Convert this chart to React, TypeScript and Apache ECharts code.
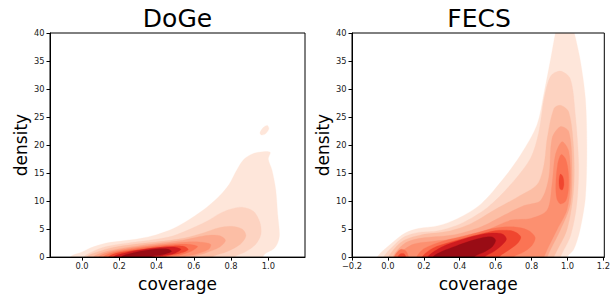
import React, { useEffect, useRef } from "react";
import * as echarts from "echarts";

// ---- data: contour outlines, [coverage, density] ----
const X_TICKS_DOGE = [0, 0.2, 0.4, 0.6, 0.8, 1.0];
const X_TICKS_FECS = [-0.2, 0, 0.2, 0.4, 0.6, 0.8, 1.0, 1.2];
const Y_TICKS = [0, 5, 10, 15, 20, 25, 30, 35, 40];

const dogeL1 = [[-0.07, -2], [-0.064, 0], [0.0, 0.9], [0.05, 1.7], [0.13, 2.5], [0.22, 2.9], [0.31, 3.3], [0.4, 4.0], [0.49, 5.1], [0.58, 6.8], [0.67, 8.9], [0.74, 11.0], [0.79, 13], [0.83, 15.5], [0.87, 17.5], [0.92, 18.5], [0.97, 18.8], [1.01, 18.7], [1.0, 17.5], [1.02, 15.5], [1.04, 12], [1.05, 7.8], [1.06, 4], [1.05, 2.5], [1.03, 1.5], [0.98, 0.5], [0.93, -2]];
const dogeL1b = [[0.955, 22.2], [0.975, 23.2], [0.995, 23.5], [1.003, 22.9], [0.985, 22.0], [0.963, 21.8]];
const dogeL2 = [[-0.02, -2], [0.007, 0], [0.07, 1.2], [0.13, 1.9], [0.22, 2.4], [0.31, 2.8], [0.4, 3.2], [0.49, 3.8], [0.58, 5.0], [0.67, 6.4], [0.74, 7.8], [0.8, 8.6], [0.86, 8.9], [0.92, 8.2], [0.955, 6.2], [0.96, 4], [0.93, 2.2], [0.88, 1], [0.82, 0], [0.8, -2]];
const dogeL3 = [[0.02, -2], [0.025, 0], [0.09, 1.0], [0.15, 1.6], [0.24, 2.1], [0.34, 2.5], [0.45, 2.9], [0.55, 3.4], [0.65, 4.3], [0.73, 5.2], [0.8, 5.5], [0.86, 5.0], [0.88, 3.8], [0.85, 2.3], [0.78, 1.0], [0.7, 0], [0.68, -2]];
const dogeL4 = [[0.055, -2], [0.061, 0], [0.12, 0.9], [0.2, 1.5], [0.3, 2.0], [0.42, 2.5], [0.52, 2.9], [0.61, 3.5], [0.68, 3.9], [0.74, 3.8], [0.77, 3.0], [0.74, 1.8], [0.66, 0.7], [0.6, 0], [0.58, -2]];
const dogeL5 = [[0.085, -2], [0.088, 0], [0.15, 0.9], [0.24, 1.5], [0.35, 2.0], [0.46, 2.4], [0.56, 2.7], [0.63, 2.7], [0.69, 2.3], [0.68, 1.4], [0.61, 0.5], [0.55, 0], [0.53, -2]];
const dogeL6 = [[0.11, -2], [0.114, 0], [0.18, 0.9], [0.27, 1.4], [0.38, 1.9], [0.48, 2.2], [0.57, 2.3], [0.62, 1.9], [0.59, 1.1], [0.52, 0.3], [0.48, 0], [0.47, -2]];
const dogeL7 = [[0.138, -2], [0.141, 0], [0.2, 0.8], [0.3, 1.3], [0.4, 1.75], [0.49, 2.0], [0.55, 1.9], [0.57, 1.3], [0.52, 0.6], [0.45, 0], [0.44, -2]];
const dogeL8 = [[0.165, -2], [0.168, 0], [0.23, 0.75], [0.32, 1.3], [0.42, 1.7], [0.49, 1.8], [0.53, 1.4], [0.5, 0.7], [0.43, 0.2], [0.39, 0], [0.38, -2]];
const dogeL9 = [[0.2, -2], [0.21, 0], [0.26, 0.65], [0.33, 1.15], [0.4, 1.45], [0.46, 1.45], [0.48, 1.0], [0.43, 0.4], [0.37, 0], [0.36, -2]];

const fecsL1 = [[-0.07, -2], [-0.06, 0], [0.022, 2.5], [0.096, 4.3], [0.169, 5.1], [0.28, 5.6], [0.39, 6.9], [0.519, 9.5], [0.648, 14.2], [0.74, 18.3], [0.83, 23.6], [0.87, 29.4], [0.906, 35.3], [0.933, 40], [0.96, 43.5], [1.0, 44], [1.03, 41], [1.07, 35.3], [1.1, 28.2], [1.108, 19.5], [1.1, 10.7], [1.07, 4.9], [1.034, 1.3], [0.997, 0], [0.99, -2]];
const fecsL2 = [[-0.03, -2], [-0.024, 0], [0.04, 2.3], [0.096, 3.7], [0.169, 4.4], [0.28, 4.7], [0.408, 6.0], [0.556, 8.9], [0.685, 13], [0.795, 17.7], [0.841, 22.4], [0.869, 28.2], [0.906, 32.3], [0.961, 33.2], [1.016, 31.8], [1.044, 25.3], [1.062, 16.5], [1.052, 9.5], [1.016, 3.7], [0.961, 0], [0.95, -2]];
const fecsL3 = [[-0.005, -2], [0.003, 0], [0.05, 2.0], [0.096, 3.1], [0.188, 4.0], [0.335, 4.6], [0.464, 6.0], [0.592, 8.4], [0.721, 10.7], [0.832, 13], [0.869, 16.5], [0.887, 21.2], [0.924, 26.5], [0.961, 27.1], [1.007, 25.9], [1.034, 19.5], [1.034, 11.9], [0.997, 4.9], [0.924, 0], [0.91, -2]];
const fecsL4 = [[0.02, -2], [0.026, 0], [0.096, 2.5], [0.188, 3.4], [0.372, 4.0], [0.519, 5.4], [0.648, 7.5], [0.758, 9.2], [0.85, 10.1], [0.896, 14.2], [0.914, 21.2], [0.961, 23.3], [1.007, 22.4], [1.025, 16.5], [1.016, 9.5], [0.961, 4.9], [0.887, 0], [0.88, -2]];
const fecsL5 = [[0.045, -2], [0.05, 0], [0.133, 2.2], [0.243, 2.8], [0.408, 3.4], [0.556, 4.9], [0.685, 6.6], [0.795, 6.9], [0.887, 8.4], [0.914, 13], [0.933, 18.3], [0.97, 20.6], [1.007, 18.9], [1.016, 13], [0.997, 8.4], [0.942, 4.9], [0.869, 0], [0.86, -2]];
const fecsL6a = [[0.03, -2], [0.035, 0], [0.055, 1.0], [0.075, 1.4], [0.1, 1.1], [0.115, 0], [0.12, -2]];
const fecsL6b = [[0.155, -2], [0.16, 0], [0.2, 1.5], [0.3, 2.8], [0.4, 3.6], [0.5, 4.4], [0.6, 5.2], [0.7, 5.4], [0.78, 4.8], [0.82, 3.5], [0.8, 2], [0.75, 0.8], [0.7, 0], [0.69, -2]];
const fecsL6c = [[0.965, 18.3], [0.99, 17.5], [1.005, 15], [1.005, 12], [0.99, 10], [0.96, 9.5], [0.94, 10.5], [0.935, 13], [0.945, 16.5]];
const fecsL7a = [[0.05, -2], [0.055, 0], [0.07, 0.6], [0.09, 0.6], [0.1, 0], [0.1, -2]];
const fecsL7b = [[0.185, -2], [0.19, 0], [0.25, 1.6], [0.35, 2.7], [0.45, 3.6], [0.55, 4.4], [0.62, 4.8], [0.7, 4.6], [0.74, 3.6], [0.72, 2.4], [0.67, 1.2], [0.62, 0], [0.61, -2]];
const fecsL7c = [[0.96, 14.8], [0.975, 14.3], [0.98, 13], [0.972, 12], [0.958, 12.2], [0.953, 13.5]];
const fecsL8 = [[0.215, -2], [0.22, 0], [0.3, 1.8], [0.4, 3.0], [0.5, 3.9], [0.58, 4.3], [0.64, 4.1], [0.66, 3.2], [0.63, 2.0], [0.58, 0.8], [0.54, 0], [0.53, -2]];
const fecsL9 = [[0.245, -2], [0.25, 0], [0.3, 1.0], [0.38, 2.0], [0.46, 2.9], [0.53, 3.5], [0.58, 3.6], [0.6, 3.0], [0.58, 1.8], [0.53, 0.8], [0.48, 0], [0.47, -2]];

// level index (0 = lightest) for each outline, in drawing order
const DOGE_SHAPES = [
  { lvl: 0, pts: dogeL1 }, { lvl: 0, pts: dogeL1b }, { lvl: 1, pts: dogeL2 }, { lvl: 2, pts: dogeL3 },
  { lvl: 3, pts: dogeL4 }, { lvl: 4, pts: dogeL5 }, { lvl: 5, pts: dogeL6 }, { lvl: 6, pts: dogeL7 },
  { lvl: 7, pts: dogeL8 }, { lvl: 8, pts: dogeL9 },
];
const FECS_SHAPES = [
  { lvl: 0, pts: fecsL1 }, { lvl: 1, pts: fecsL2 }, { lvl: 2, pts: fecsL3 }, { lvl: 3, pts: fecsL4 },
  { lvl: 4, pts: fecsL5 }, { lvl: 5, pts: fecsL6a }, { lvl: 5, pts: fecsL6b }, { lvl: 5, pts: fecsL6c },
  { lvl: 6, pts: fecsL7a }, { lvl: 6, pts: fecsL7b }, { lvl: 6, pts: fecsL7c }, { lvl: 7, pts: fecsL8 },
  { lvl: 8, pts: fecsL9 },
];

const COLORS = ["#fee6da", "#fdd3c1", "#fcbea5", "#fca78b", "#fc9070", "#fb7454", "#f0462f", "#cf1c1f", "#990c15"];

const FONT = "DejaVu Sans";

function fmtTick(v: number) {
  const s = Math.abs(v).toFixed(1);
  return v < 0 ? "\u2212" + s : s;
}

function contourSeries(shapes: { lvl: number; pts: number[][] }[], gi: number) {
  return {
    type: "custom",
    xAxisIndex: gi,
    yAxisIndex: gi,
    clip: true,
    silent: true,
    data: shapes.map(() => [0.5, 10]),
    renderItem: (params: any, api: any) => {
      const sh = shapes[params.dataIndex];
      const points = sh.pts.map((p) => api.coord(p));
      return {
        type: "polygon",
        shape: { points, smooth: 0.3 },
        style: { fill: COLORS[sh.lvl], stroke: COLORS[sh.lvl], lineWidth: 0.3 },
      };
    },
  };
}

function xAxisCfg(gi: number, min: number, max: number, ticks: number[]) {
  return {
    type: "value",
    gridIndex: gi,
    min,
    max,
    name: "coverage",
    nameLocation: "middle",
    nameGap: 16,
    nameTextStyle: { fontSize: 17, color: "#000", fontFamily: FONT },
    axisLine: { show: true, onZero: false, lineStyle: { color: "#000", width: 1 } },
    axisTick: { show: true, inside: false, length: 3.5, customValues: ticks, lineStyle: { color: "#000", width: 1 } },
    axisLabel: { show: true, customValues: ticks, formatter: fmtTick, fontSize: 8.3, color: "#222", margin: 5, fontFamily: FONT },
    splitLine: { show: false },
    z: 10,
  };
}

function yAxisCfg(gi: number) {
  return {
    type: "value",
    gridIndex: gi,
    min: Y_TICKS[0],
    max: Y_TICKS[Y_TICKS.length - 1],
    interval: Y_TICKS[1] - Y_TICKS[0],
    name: "density",
    nameLocation: "middle",
    nameGap: 21,
    nameRotate: 90,
    nameTextStyle: { fontSize: 17, color: "#000", fontFamily: FONT },
    axisLine: { show: true, onZero: false, lineStyle: { color: "#000", width: 1 } },
    axisTick: { show: true, inside: false, length: 3.5, lineStyle: { color: "#000", width: 1 } },
    axisLabel: { show: true, formatter: (v: number) => String(v), fontSize: 8.3, color: "#222", margin: 5.5, fontFamily: FONT },
    splitLine: { show: false },
    z: 10,
  };
}

export default function App() {
  const ref = useRef<HTMLDivElement>(null);
  useEffect(() => {
    if (!ref.current) return;
    const chart = echarts.init(ref.current, null, { renderer: "svg" });
    chart.setOption({
      animation: false,
      backgroundColor: "#fff",
      grid: [
        { left: 50, top: 33, width: 255, height: 228, show: true, borderColor: "#000", borderWidth: 1, z: 10, backgroundColor: "transparent" },
        { left: 352, top: 33, width: 254, height: 228, show: true, borderColor: "#000", borderWidth: 1, z: 10, backgroundColor: "transparent" },
      ],
      xAxis: [xAxisCfg(0, -0.172, 1.197, X_TICKS_DOGE), xAxisCfg(1, -0.2, 1.205, X_TICKS_FECS)],
      yAxis: [yAxisCfg(0), yAxisCfg(1)],
      series: [contourSeries(DOGE_SHAPES, 0), contourSeries(FECS_SHAPES, 1)],
      graphic: [
        { type: "text", x: 177.5, y: 18.5, style: { text: "DoGe", font: `25px ${FONT}`, fill: "#000", align: "center", verticalAlign: "middle" } },
        { type: "text", x: 479, y: 18.5, style: { text: "FECS", font: `25px ${FONT}`, fill: "#000", align: "center", verticalAlign: "middle" } },
      ],
    });
    return () => chart.dispose();
  }, []);
  return <div ref={ref} style={{ width: 613, height: 297, position: "absolute", left: 0, top: 0 }} />;
}
